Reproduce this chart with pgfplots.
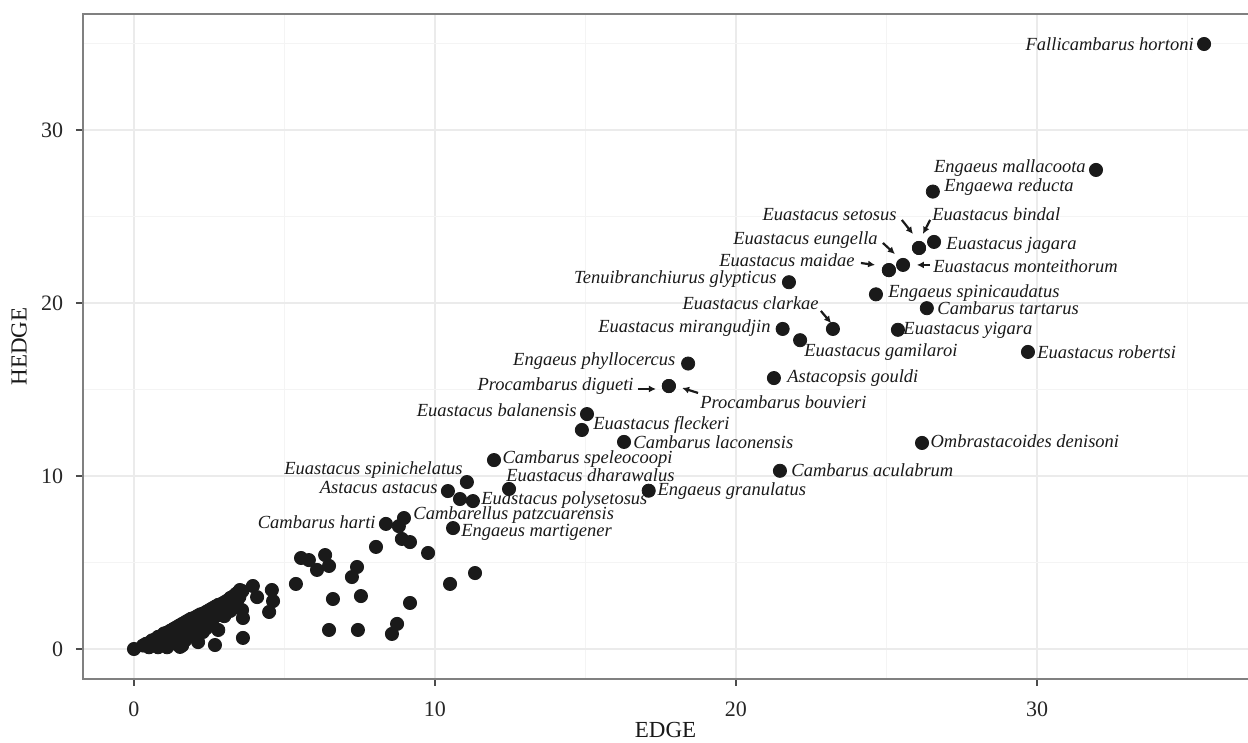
\documentclass[border=0pt]{standalone}
\usepackage{fontspec}
\setmainfont{Liberation Serif}
\usepackage{pgfplots}
\pgfplotsset{compat=1.18}
\usetikzlibrary{arrows.meta}
\definecolor{dotc}{HTML}{1A1A1A}
\definecolor{gridmaj}{HTML}{EBEBEB}
\definecolor{gridmin}{HTML}{F4F4F4}
\definecolor{framec}{HTML}{808080}
\begin{document}
\begin{tikzpicture}
\begin{axis}[
 scale only axis, width=582.5pt, height=332.5pt,
 xmin=-1.694, xmax=37.01, ymin=-1.734, ymax=36.705,
 xtick={0,10,20,30}, ytick={0,10,20,30},
 minor xtick={5,15,25,35}, minor ytick={5,15,25,35},
 grid=both,
 major grid style={draw=gridmaj, line width=0.8pt},
 minor grid style={draw=gridmin, line width=0.8pt},
 axis line style={draw=none},
 tick pos=left, tick align=outside,
 major tick length=3.5pt, minor tick length=0pt,
 tick style={draw=black!70, line width=0.8pt},
 ticklabel style={font=\fontsize{11}{13}\selectfont, text=black!85, inner sep=0pt},
 xticklabel style={yshift=-7.5pt},
 yticklabel style={xshift=-6.25pt},
 /pgf/number format/assume math mode=true,
 xlabel={EDGE}, ylabel={HEDGE},
 every axis x label/.style={font=\fontsize{11.5}{13}\selectfont, at={(rel axis cs:0.5,0)}, anchor=center, yshift=-25.5pt},
 every axis y label/.style={font=\fontsize{11.5}{13}\selectfont, at={([xshift=-32pt]rel axis cs:0,0.5)}, anchor=center, rotate=90},
 clip=false,
 nodes={font=\itshape\fontsize{9.25}{11}\selectfont, inner sep=0pt, text=black!90},
]
\coordinate (ll) at (rel axis cs:0,0);
\coordinate (ur) at (rel axis cs:1,1);
\draw[framec, line width=1pt] (rel axis cs:1,1) -- (rel axis cs:0,1) -- (rel axis cs:0,0) -- (rel axis cs:1,0);
\addplot[only marks, mark=*, mark size=3.3pt, mark options={draw=dotc, fill=dotc}] table {
x y
35.55 34.97
31.96 27.69
26.54 26.44
26.58 23.53
26.08 23.18
26.08 23.18
25.55 22.20
25.08 21.90
25.08 21.90
21.76 21.20
24.65 20.50
26.34 19.70
23.22 18.50
21.55 18.50
22.13 17.85
25.38 18.45
29.70 17.17
21.26 15.66
18.41 16.50
17.77 15.20
17.77 15.20
15.05 13.58
14.88 12.66
16.28 11.97
26.18 11.91
21.46 10.30
17.10 9.15
11.96 10.92
12.46 9.25
11.06 9.65
10.43 9.13
11.26 8.55
10.83 8.67
8.97 7.57
8.80 7.10
8.37 7.23
10.60 6.99
8.90 6.36
9.17 6.18
8.04 5.90
9.77 5.55
5.55 5.26
5.81 5.14
6.35 5.43
6.08 4.57
6.48 4.80
7.41 4.74
7.24 4.16
5.38 3.76
10.50 3.76
11.33 4.39
9.17 2.66
8.74 1.45
8.57 0.87
6.48 1.10
7.44 1.10
6.61 2.89
7.54 3.06
3.95 3.64
4.09 3.00
4.58 3.41
4.62 2.77
4.49 2.14
3.62 0.64
2.69 0.23
3.62 1.79
3.59 2.25
3.52 3.41
3.42 2.72
2.86 1.97
2.29 0.98
2.13 0.40
1.53 0.12
0 0
0.3 0.2
0.4 0.3
0.5 0.35
0.5 0.1
0.6 0.5
0.6 0.2
0.7 0.55
0.7 0.3
0.8 0.7
0.8 0.4
0.8 0.1
0.9 0.75
0.9 0.5
1.0 0.9
1.0 0.6
1.0 0.25
1.1 0.95
1.1 0.7
1.1 0.1
1.2 1.05
1.2 0.8
1.2 0.45
1.3 1.15
1.3 0.9
1.3 0.6
1.4 1.25
1.4 1.0
1.4 0.3
1.5 1.35
1.5 1.1
1.5 0.7
1.6 1.45
1.6 1.2
1.6 0.9
1.7 1.55
1.7 1.3
1.7 0.5
1.8 1.65
1.8 1.4
1.8 1.0
1.9 1.75
1.9 1.5
1.9 1.2
2.0 1.8
2.0 1.55
2.0 0.7
2.1 1.9
2.1 1.6
2.1 1.3
2.2 2.0
2.2 1.7
2.3 2.05
2.3 1.8
2.3 1.4
2.4 2.15
2.4 1.9
2.5 2.25
2.5 2.0
2.5 1.6
2.6 2.35
2.6 2.05
2.7 2.45
2.7 2.2
2.8 2.55
2.8 2.3
2.9 2.6
2.9 2.1
3.0 2.7
3.0 2.4
3.1 2.8
3.1 2.5
3.2 2.95
3.2 2.6
3.3 3.05
3.3 2.7
3.4 3.2
3.4 2.9
3.5 3.3
3.5 3.0
3.6 3.35
3.2 2.2
2.6 1.5
2.0 1.0
1.6 0.2
2.4 1.2
3.0 1.9
2.8 1.1
};
% labels
\node[anchor=east] at (axis cs:35.22,34.97) {Fallicambarus hortoni};
\node[anchor=east] at (axis cs:31.63,27.80) {Engaeus mallacoota};
\node[anchor=west] at (axis cs:26.91,26.70) {Engaewa reducta};
\node[anchor=east] at (axis cs:25.35,25.14) {Euastacus setosus};
\node[anchor=west] at (axis cs:26.51,25.14) {Euastacus bindal};
\node[anchor=east] at (axis cs:24.72,23.64) {Euastacus eungella};
\node[anchor=west] at (axis cs:26.98,23.35) {Euastacus jagara};
\node[anchor=east] at (axis cs:23.95,22.49) {Euastacus maidae};
\node[anchor=west] at (axis cs:26.54,22.14) {Euastacus monteithorum};
\node[anchor=east] at (axis cs:21.36,21.39) {Tenuibranchiurus glypticus};
\node[anchor=west] at (axis cs:25.05,20.58) {Engaeus spinicaudatus};
\node[anchor=west] at (axis cs:26.68,19.71) {Cambarus tartarus};
\node[anchor=east] at (axis cs:22.76,20.00) {Euastacus clarkae};
\node[anchor=east] at (axis cs:21.16,18.55) {Euastacus mirangudjin};
\node[anchor=west] at (axis cs:22.26,17.17) {Euastacus gamilaroi};
\node[anchor=west] at (axis cs:25.55,18.44) {Euastacus yigara};
\node[anchor=west] at (axis cs:30.00,17.17) {Euastacus robertsi};
\node[anchor=west] at (axis cs:21.69,15.66) {Astacopsis gouldi};
\node[anchor=east] at (axis cs:18.00,16.65) {Engaeus phyllocercus};
\node[anchor=east] at (axis cs:16.61,15.20) {Procambarus digueti};
\node[anchor=west] at (axis cs:18.80,14.28) {Procambarus bouvieri};
\node[anchor=east] at (axis cs:14.72,13.82) {Euastacus balanensis};
\node[anchor=west] at (axis cs:15.25,12.95) {Euastacus fleckeri};
\node[anchor=west] at (axis cs:16.58,11.97) {Cambarus laconensis};
\node[anchor=west] at (axis cs:26.45,12.02) {Ombrastacoides denisoni};
\node[anchor=west] at (axis cs:21.83,10.35) {Cambarus aculabrum};
\node[anchor=west] at (axis cs:17.38,9.13) {Engaeus granulatus};
\node[anchor=west] at (axis cs:12.23,10.98) {Cambarus speleocoopi};
\node[anchor=west] at (axis cs:12.36,10.06) {Euastacus dharawalus};
\node[anchor=east] at (axis cs:10.93,10.35) {Euastacus spinichelatus};
\node[anchor=east] at (axis cs:10.10,9.31) {Astacus astacus};
\node[anchor=west] at (axis cs:11.53,8.61) {Euastacus polysetosus};
\node[anchor=west] at (axis cs:9.27,7.75) {Cambarellus patzcuarensis};
\node[anchor=east] at (axis cs:8.04,7.34) {Cambarus harti};
\node[anchor=west] at (axis cs:10.86,6.76) {Engaeus martigener};
% arrows
\begin{scope}[dotc, line width=1.1pt, -{Latex[length=3.5pt,width=3.5pt]}]
\draw (axis cs:25.51,24.80) -- (axis cs:25.88,23.99);
\draw (axis cs:26.45,24.80) -- (axis cs:26.21,23.99);
\draw (axis cs:24.88,23.47) -- (axis cs:25.28,22.83);
\draw (axis cs:24.15,22.31) -- (axis cs:24.62,22.20);
\draw (axis cs:26.45,22.20) -- (axis cs:26.01,22.20);
\draw (axis cs:22.82,19.54) -- (axis cs:23.16,18.84);
\draw (axis cs:16.74,15.03) -- (axis cs:17.34,15.03);
\draw (axis cs:18.74,14.80) -- (axis cs:18.21,15.09);
\end{scope}
\end{axis}
\pgfresetboundingbox
\path ([xshift=-41.5pt,yshift=-32pt]ll) rectangle ([yshift=7pt]ur);
\end{tikzpicture}
\end{document}
